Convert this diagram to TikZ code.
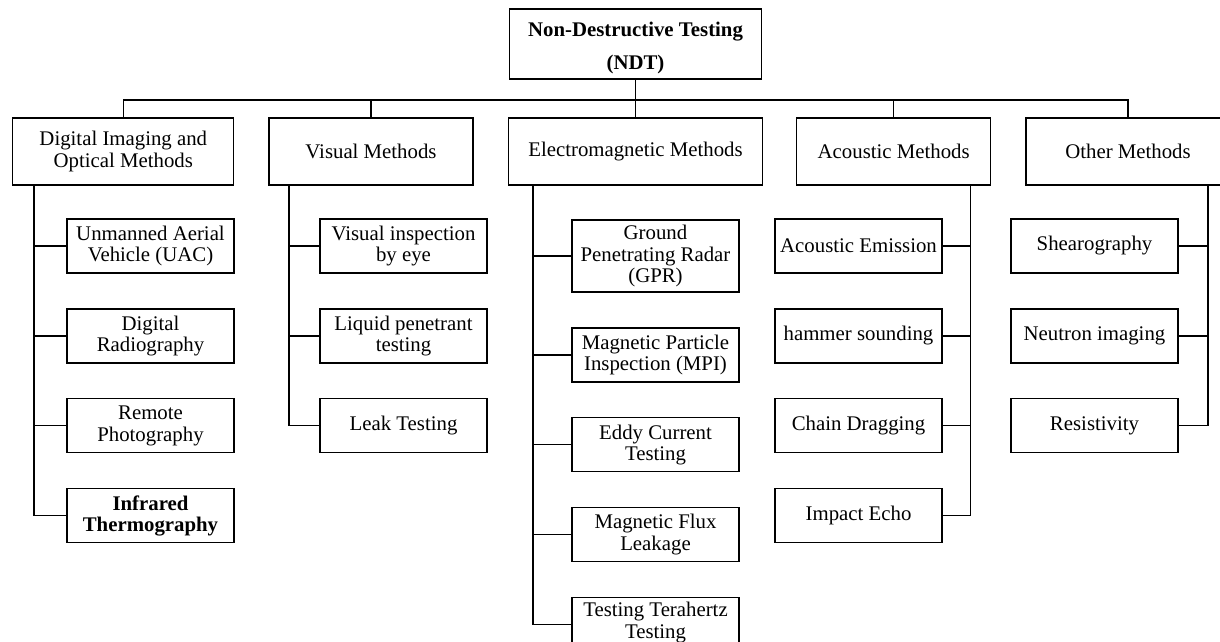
\documentclass[tikz,border=0pt]{standalone}
\usepackage{fontspec}
\setmainfont{Liberation Serif}
\usetikzlibrary{positioning}

\begin{document}
\begin{tikzpicture}[
    x=0.025cm, y=-0.025cm,
    node distance=0.87cm,
    every node/.style={font=\fontsize{14.8}{15.4}\selectfont},
    root/.style={
        draw, line width=0.8pt,
        minimum width=6.28cm, minimum height=1.75cm,
        align=center, font=\fontsize{14.8}{23.5}\selectfont\bfseries
    },
    cat/.style={
        draw, line width=0.8pt,
        minimum height=1.675cm, inner sep=1pt,
        align=center
    },
    leaf/.style={
        draw, line width=0.8pt,
        minimum width=4.175cm, minimum height=1.35cm, inner sep=1pt,
        align=center
    },
    link/.style={line width=0.8pt}
]
\useasboundingbox (0,0) rectangle (1220,642);

%% ── Root ────────────────────────────────────────────────────────────
\node[root] (ndt) at (635.5,44) {\rule{0pt}{16pt}Non-Destructive Testing\\(NDT)};

%% ── Method groups ───────────────────────────────────────────────────
\node[cat, minimum width=5.53cm] (dig) at (123.3,151.5) {Digital Imaging and\\Optical Methods};
\node[cat, minimum width=5.1cm]  (vis) at (371,151.5)   {Visual Methods};
\node[cat, minimum width=6.33cm] (em)  at (635.5,151.5) {Electromagnetic Methods};
\node[cat, minimum width=4.84cm] (aco) at (893.7,151.5) {Acoustic Methods};
\node[cat, minimum width=5.1cm]  (oth) at (1128,151.5)  {Other Methods};

\coordinate (bus) at (635.5,100);
\draw[link] (ndt) -- (em);
\draw[link] (dig.north) |- (bus) -| (oth.north);
\draw[link] (vis.north) -- (vis.north |- bus);
\draw[link] (aco.north) -- (aco.north |- bus);

%% ── Digital imaging and optical ─────────────────────────────────────
\node[leaf] (dig1) at (150.5,246) {Unmanned Aerial\\Vehicle (UAC)};
\node[leaf, below=of dig1] (dig2) {Digital\\Radiography};
\node[leaf, below=of dig2] (dig3) {Remote\\Photography};
\node[leaf, below=of dig3, font=\fontsize{14.8}{15.4}\selectfont\bfseries] (dig4) {Infrared\\Thermography};

\coordinate (digT) at ([xshift=-2.2325cm]dig.south);
\foreach \i in {1,...,4}
    \draw[link] (digT) |- (dig\i.west);

%% ── Visual ──────────────────────────────────────────────────────────
\node[leaf] (vis1) at (403.5,246) {Visual inspection\\by eye};
\node[leaf, below=of vis1] (vis2) {Liquid penetrant\\testing};
\node[leaf, below=of vis2] (vis3) {Leak Testing};

\coordinate (visT) at ([xshift=-2.05cm]vis.south);
\foreach \i in {1,...,3}
    \draw[link] (visT) |- (vis\i.west);

%% ── Electromagnetic ─────────────────────────────────────────────────
\node[leaf, minimum height=1.8cm] (em1) at (655.5,256) {Ground\\Penetrating Radar\\(GPR)};
\node[leaf, below=of em1] (em2) {Magnetic Particle\\Inspection (MPI)};
\node[leaf, below=of em2] (em3) {Eddy Current\\Testing};
\node[leaf, below=of em3] (em4) {Magnetic Flux\\Leakage};
\node[leaf, below=of em4] (em5) {Testing Terahertz\\Testing\\[-9pt]\mbox{}};

\coordinate (emT) at ([xshift=-2.5625cm]em.south);
\foreach \i in {1,...,5}
    \draw[link] (emT) |- (em\i.west);

%% ── Acoustic ────────────────────────────────────────────────────────
\node[leaf] (aco1) at (858.5,246) {Acoustic Emission};
\node[leaf, below=of aco1] (aco2) {hammer sounding};
\node[leaf, below=of aco2] (aco3) {Chain Dragging};
\node[leaf, below=of aco3] (aco4) {Impact Echo};

\coordinate (acoT) at ([xshift=1.93cm]aco.south);
\foreach \i in {1,...,4}
    \draw[link] (acoT) |- (aco\i.east);

%% ── Other ───────────────────────────────────────────────────────────
\node[leaf] (oth1) at (1094.5,246) {Shearography};
\node[leaf, below=of oth1] (oth2) {Neutron imaging};
\node[leaf, below=of oth2] (oth3) {Resistivity};

\coordinate (othT) at ([xshift=2cm]oth.south);
\foreach \i in {1,...,3}
    \draw[link] (othT) |- (oth\i.east);

\end{tikzpicture}
\end{document}
